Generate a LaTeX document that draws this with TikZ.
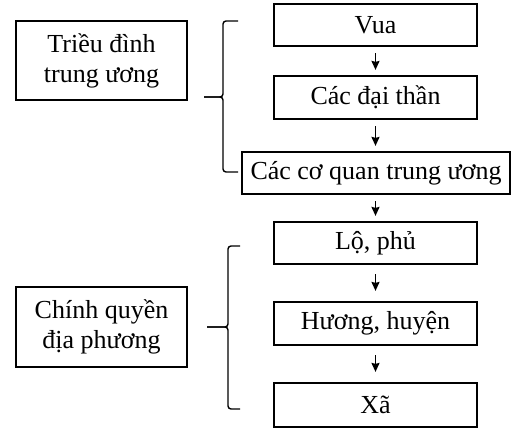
\documentclass[tikz,border=0pt]{standalone}
\usepackage{fontspec}
\setmainfont{Liberation Serif}
\usetikzlibrary{arrows.meta}
\begin{document}
\begin{tikzpicture}[x=1pt,y=-1pt,
  box/.style={draw,line width=2.2pt,inner sep=0pt,align=center,
    font=\fontsize{26}{30}\selectfont},
  flow/.style={-{Stealth[length=9pt,width=8pt,inset=1pt]},line width=1.8pt,
    shorten <=6pt,shorten >=5pt},
  bracket/.style={line width=1.4pt,rounded corners=3pt}]
\useasboundingbox[fill=white] (0,0) rectangle (529,434);
\node[box,minimum width=203pt,minimum height=42pt] (vua) at (375.5,25) {Vua};
\node[box,minimum width=203pt,minimum height=43pt] (dt) at (375.5,97.5) {Các đại thần};
\node[box,minimum width=268pt,minimum height=42pt] (cq) at (376,173) {Các cơ quan trung ương};
\node[box,minimum width=203pt,minimum height=42pt] (lp) at (375.5,243) {Lộ, phủ};
\node[box,minimum width=203pt,minimum height=43pt] (hh) at (375.5,323.5) {Hương, huyện};
\node[box,minimum width=203pt,minimum height=44pt] (xa) at (375.5,405) {Xã};
\node[box,minimum width=171pt,minimum height=79pt] (td) at (101.5,60.5) {Triều đình\\trung ương};
\node[box,minimum width=171pt,minimum height=80pt] (cqdp) at (101.5,327) {Chính quyền\\địa phương};
\draw[flow] (vua) -- (dt);
\draw[flow] (dt) -- (cq.north -| dt.south);
\draw[flow] (cq.south -| lp.north) -- (lp);
\draw[flow,shorten <=9pt,shorten >=10pt] (lp) -- (hh);
\draw[flow,shorten <=9pt,shorten >=10pt] (hh) -- (xa);
% braces
\draw[bracket] (238,21) -- (223,21) -- (223,97) -- (204,97);
\draw[bracket] (204,97) -- (223,97) -- (223,172) -- (238,172);
\draw[bracket] (240,246) -- (228,246) -- (228,327) -- (207,327);
\draw[bracket] (207,327) -- (228,327) -- (228,409) -- (240,409);
\end{tikzpicture}
\end{document}
